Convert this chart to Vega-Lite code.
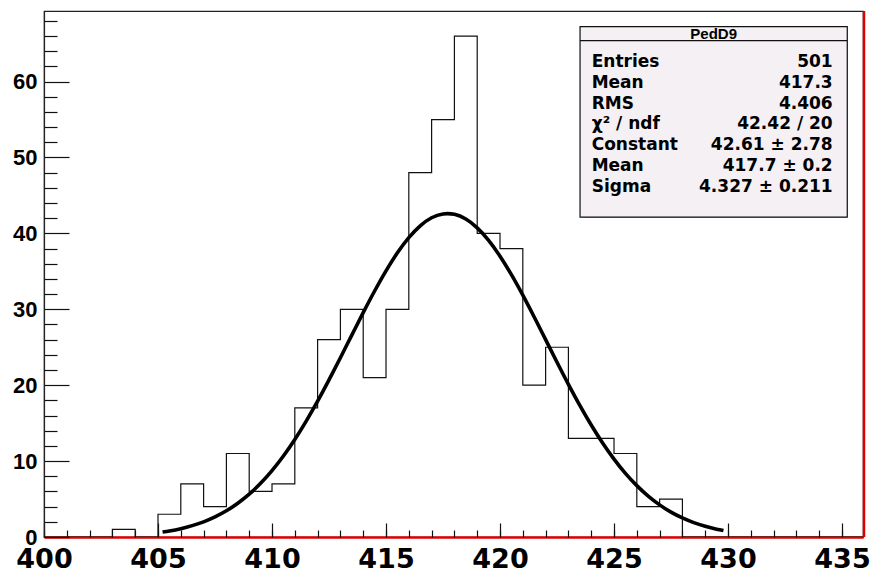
{
  "$schema": "https://vega.github.io/schema/vega-lite/v6.json",
  "width": 819,
  "height": 526,
  "autosize": {"type": "none"},
  "padding": {"left": 44, "top": 11, "right": 11, "bottom": 38},
  "background": "white",
  "config": {"view": {"stroke": "#222", "strokeWidth": 1.2}, "axis": {"grid": false}},
  "datasets": {
    "hist": [
      {"edge": 400, "count": 0}, {"edge": 401, "count": 0}, {"edge": 402, "count": 0}, {"edge": 403, "count": 1},
      {"edge": 404, "count": 0}, {"edge": 405, "count": 3}, {"edge": 406, "count": 7}, {"edge": 407, "count": 4},
      {"edge": 408, "count": 11}, {"edge": 409, "count": 6}, {"edge": 410, "count": 7}, {"edge": 411, "count": 17},
      {"edge": 412, "count": 26}, {"edge": 413, "count": 30}, {"edge": 414, "count": 21}, {"edge": 415, "count": 30},
      {"edge": 416, "count": 48}, {"edge": 417, "count": 55}, {"edge": 418, "count": 66}, {"edge": 419, "count": 40},
      {"edge": 420, "count": 38}, {"edge": 421, "count": 20}, {"edge": 422, "count": 25}, {"edge": 423, "count": 13},
      {"edge": 424, "count": 13}, {"edge": 425, "count": 11}, {"edge": 426, "count": 4}, {"edge": 427, "count": 5},
      {"edge": 428, "count": 0}, {"edge": 429, "count": 0}, {"edge": 430, "count": 0}, {"edge": 431, "count": 0},
      {"edge": 432, "count": 0}, {"edge": 433, "count": 0}, {"edge": 434, "count": 0}, {"edge": 435, "count": 0},
      {"edge": 436, "count": 0}
    ],
    "fit": [
      {"x": 405.2, "y": 0.66}, {"x": 405.5, "y": 0.80}, {"x": 406, "y": 1.10}, {"x": 406.5, "y": 1.50},
      {"x": 407, "y": 2.00}, {"x": 407.5, "y": 2.65}, {"x": 408, "y": 3.45}, {"x": 408.5, "y": 4.44},
      {"x": 409, "y": 5.64}, {"x": 409.5, "y": 7.07}, {"x": 410, "y": 8.75}, {"x": 410.5, "y": 10.67},
      {"x": 411, "y": 12.85}, {"x": 411.5, "y": 15.27}, {"x": 412, "y": 17.89}, {"x": 412.5, "y": 20.70},
      {"x": 413, "y": 23.62}, {"x": 413.5, "y": 26.60}, {"x": 414, "y": 29.56}, {"x": 414.5, "y": 32.41},
      {"x": 415, "y": 35.07}, {"x": 415.5, "y": 37.44}, {"x": 416, "y": 39.44}, {"x": 416.5, "y": 41.00},
      {"x": 417, "y": 42.06}, {"x": 417.5, "y": 42.56}, {"x": 417.7, "y": 42.61}, {"x": 418, "y": 42.51},
      {"x": 418.5, "y": 41.89}, {"x": 419, "y": 40.73}, {"x": 419.5, "y": 39.08}, {"x": 420, "y": 37.00},
      {"x": 420.5, "y": 34.56}, {"x": 421, "y": 31.86}, {"x": 421.5, "y": 28.98}, {"x": 422, "y": 26.01},
      {"x": 422.5, "y": 23.03}, {"x": 423, "y": 20.12}, {"x": 423.5, "y": 17.35}, {"x": 424, "y": 14.76},
      {"x": 424.5, "y": 12.39}, {"x": 425, "y": 10.27}, {"x": 425.5, "y": 8.39}, {"x": 426, "y": 6.77},
      {"x": 426.5, "y": 5.39}, {"x": 427, "y": 4.23}, {"x": 427.5, "y": 3.28}, {"x": 428, "y": 2.51},
      {"x": 428.5, "y": 1.89}, {"x": 429, "y": 1.41}, {"x": 429.5, "y": 1.03}, {"x": 429.8, "y": 0.85}
    ],
    "one": [{}]
  },
  "layer": [
    {
      "data": {"name": "hist"},
      "mark": {"type": "line", "interpolate": "step-after", "color": "#111", "strokeWidth": 1.2, "clip": true},
      "encoding": {
        "x": {
          "field": "edge", "type": "quantitative",
          "scale": {"domain": [400, 435.92], "nice": false, "zero": false},
          "axis": {
            "orient": "bottom", "title": null, "values": [400, 405, 410, 415, 420, 425, 430, 435], "format": "d",
            "tickSize": -14, "tickColor": "#111", "tickWidth": 1.2,
            "domainColor": "#e00000", "domainWidth": 2.5,
            "labelFont": "DejaVu Sans", "labelFontWeight": "bold", "labelFontSize": 27, "labelColor": "#000",
            "labelPadding": 23, "labelBaseline": "top", "labelFlush": false, "labelOverlap": false
          }
        },
        "y": {
          "field": "count", "type": "quantitative",
          "scale": {"domain": [0, 69.3], "nice": false, "zero": false},
          "axis": {
            "orient": "left", "title": null, "values": [0, 10, 20, 30, 40, 50, 60], "format": "d",
            "tickSize": -25, "tickColor": "#111", "tickWidth": 1.2,
            "domainColor": "#222", "domainWidth": 1.2,
            "labelFont": "Liberation Sans", "labelFontWeight": "bold", "labelFontSize": 22, "labelColor": "#000",
            "labelPadding": 32, "labelFlush": false, "labelOverlap": false
          }
        }
      }
    },
    {
      "data": {"name": "fit"},
      "mark": {"type": "line", "interpolate": "monotone", "color": "#000", "strokeWidth": 3.6, "clip": true},
      "encoding": {
        "x": {
          "field": "x", "type": "quantitative",
          "axis": {
            "orient": "bottom", "title": null,
            "values": [400, 401, 402, 403, 404, 405, 406, 407, 408, 409, 410, 411, 412, 413, 414, 415, 416, 417, 418, 419, 420, 421, 422, 423, 424, 425, 426, 427, 428, 429, 430, 431, 432, 433, 434, 435],
            "tickSize": -7, "tickColor": "#111", "tickWidth": 1.2, "labels": false, "domain": false
          }
        },
        "y": {
          "field": "y", "type": "quantitative",
          "axis": {
            "orient": "left", "title": null,
            "values": [2, 4, 6, 8, 12, 14, 16, 18, 22, 24, 26, 28, 32, 34, 36, 38, 42, 44, 46, 48, 52, 54, 56, 58, 62, 64, 66, 68],
            "tickSize": -13, "tickColor": "#111", "tickWidth": 1.2, "labels": false, "domain": false
          }
        }
      }
    },
    {
      "data": {"name": "one"},
      "mark": {"type": "rule", "color": "#e00000", "strokeWidth": 2.5, "xOffset": 1},
      "encoding": {
        "x": {"datum": 435.92, "type": "quantitative", "axis": null},
        "y": {"datum": 0, "type": "quantitative", "axis": null},
        "y2": {"datum": 69.3}
      }
    },
    {
      "data": {"name": "one"},
      "mark": {"type": "rect", "fill": "#111", "xOffset": 2, "yOffset": 2},
      "encoding": {
        "x": {"datum": 423.51, "type": "quantitative", "axis": null},
        "x2": {"datum": 435.23},
        "y": {"datum": 67.24, "type": "quantitative", "axis": null},
        "y2": {"datum": 42.14}
      }
    },
    {
      "data": {"name": "one"},
      "mark": {"type": "rect", "fill": "#f4f0f4", "stroke": "#111", "strokeWidth": 1.2},
      "encoding": {
        "x": {"datum": 423.51, "type": "quantitative", "axis": null},
        "x2": {"datum": 435.23},
        "y": {"datum": 67.24, "type": "quantitative", "axis": null},
        "y2": {"datum": 42.14}
      }
    },
    {
      "data": {"name": "one"},
      "mark": {"type": "rule", "color": "#111", "strokeWidth": 1.2},
      "encoding": {
        "x": {"datum": 423.51, "type": "quantitative", "axis": null},
        "x2": {"datum": 435.23},
        "y": {"datum": 65.39, "type": "quantitative", "axis": null}
      }
    },
    {
      "data": {"name": "one"},
      "mark": {"type": "text", "text": "PedD9", "align": "center", "baseline": "middle", "font": "Liberation Sans", "fontWeight": "bold", "fontSize": 15, "color": "#000"},
      "encoding": {
        "x": {"datum": 429.37, "type": "quantitative", "axis": null},
        "y": {"datum": 66.32, "type": "quantitative", "axis": null}
      }
    },
    {
      "data": {"name": "one"},
      "mark": {"type": "text", "text": ["Entries", "Mean", "RMS", "χ² / ndf", "Constant", "Mean", "Sigma"], "align": "left", "baseline": "middle", "lineHeight": 20.95, "font": "DejaVu Sans", "fontWeight": "bold", "fontSize": 17, "color": "#000"},
      "encoding": {
        "x": {"datum": 424.02, "type": "quantitative", "axis": null},
        "y": {"datum": 62.63, "type": "quantitative", "axis": null}
      }
    },
    {
      "data": {"name": "one"},
      "mark": {"type": "text", "text": ["501", "417.3", "4.406", "42.42 / 20", "42.61 ± 2.78", "417.7 ± 0.2", "4.327 ± 0.211"], "align": "right", "baseline": "middle", "lineHeight": 20.95, "font": "DejaVu Sans", "fontWeight": "bold", "fontSize": 17, "color": "#000"},
      "encoding": {
        "x": {"datum": 434.59, "type": "quantitative", "axis": null},
        "y": {"datum": 62.63, "type": "quantitative", "axis": null}
      }
    }
  ],
  "resolve": {"axis": {"x": "independent", "y": "independent"}}
}
